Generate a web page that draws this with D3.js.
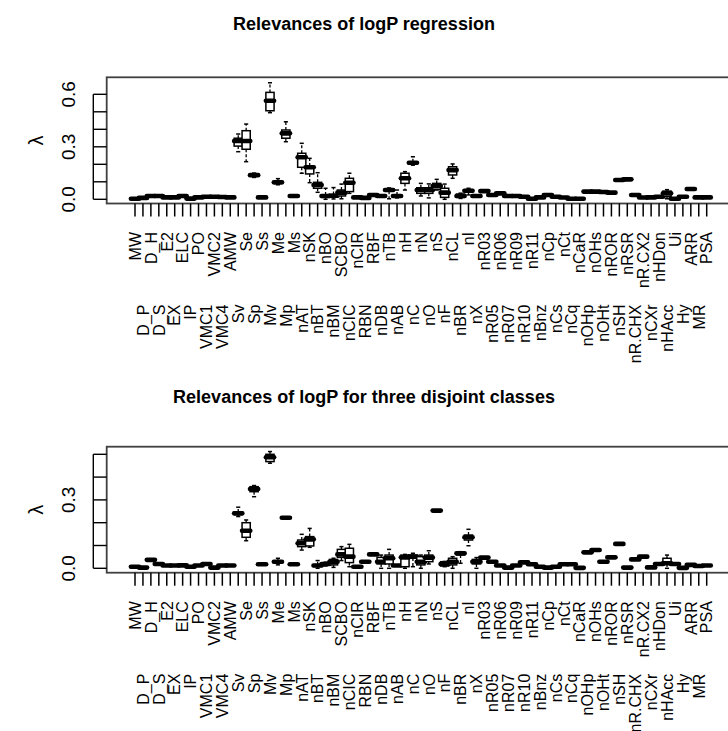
<!DOCTYPE html>
<html><head><meta charset="utf-8">
<script src="https://cdn.jsdelivr.net/npm/d3@7"></script>
<style>body{margin:0;background:#fff}svg{display:block}text{font-family:"Liberation Sans",Arial,Helvetica,sans-serif}</style>
</head><body><svg id="c" width="728" height="731"></svg>
<script>
const names=["MW","D_P","D_H","D_S","E2","EX","ELC","IP","PO","VMC1","VMC2","VMC4","AMW","Sv","Se","Sp","Ss","Mv","Me","Mp","Ms","nAT","nSK","nBT","nBO","nBM","SCBO","nCIC","nCIR","RBN","RBF","nDB","nTB","nAB","nH","nC","nN","nO","nS","nF","nCL","nBR","nI","nX","nR03","nR05","nR06","nR07","nR09","nR10","nR11","nBnz","nCp","nCs","nCt","nCq","nCaR","nOHp","nOHs","nOHt","nROR","nSH","nRSR","nR.CHX","nR.CX2","nCXr","nHDon","nHAcc","Ui","Hy","ARR","MR","PSA"];

const titles=["Relevances of logP regression","Relevances of logP for three disjoint classes"];
const topTicks=[0,0.1,0.2,0.3,0.4,0.5,0.6];
const topTickLabels=["0.0","","","0.3","","","0.6"];
const botTicks=[0,0.1,0.2,0.3,0.4,0.5];
const botTickLabels=["0.0","","","0.3","",""];

const topMed=[.003,.008,.019,.019,.011,.011,.019,.004,.011,.015,.015,.013,.011,.333,.333,.138,.011,.563,.097,.377,.019,.240,.183,.082,.019,.020,.038,.095,.011,.008,.025,.019,.053,.019,.120,.209,.053,.053,.076,.038,.167,.019,.049,.019,.047,.025,.034,.019,.019,.015,.003,.011,.025,.015,.010,.003,.003,.044,.044,.042,.038,.110,.114,.025,.010,.011,.015,.034,.003,.015,.059,.011,.011];
const topQ1=[.001,.006,.017,.017,.009,.009,.017,.002,.009,.013,.013,.011,.009,.304,.286,.133,.009,.506,.092,.349,.017,.183,.145,.063,.011,.012,.019,.044,.009,.006,.023,.017,.046,.014,.091,.203,.034,.034,.057,.011,.139,.011,.040,.017,.045,.023,.032,.017,.017,.013,.001,.009,.023,.013,.008,.001,.001,.042,.042,.040,.036,.106,.110,.023,.008,.009,.013,.015,.001,.013,.056,.009,.009];
const topQ3=[.005,.010,.021,.021,.013,.013,.021,.006,.013,.017,.017,.015,.013,.349,.392,.143,.013,.611,.102,.396,.021,.263,.190,.097,.025,.028,.053,.120,.013,.010,.027,.021,.058,.024,.149,.214,.066,.066,.091,.063,.186,.030,.055,.021,.049,.027,.036,.021,.021,.017,.005,.013,.027,.017,.012,.005,.005,.046,.046,.044,.040,.114,.118,.027,.012,.013,.017,.047,.005,.017,.062,.013,.013];
const topLo=[.000,.005,.016,.016,.008,.008,.016,.001,.008,.012,.012,.010,.008,.272,.215,.125,.008,.495,.083,.329,.016,.149,.095,.040,.000,.002,.003,.034,.008,.005,.022,.016,.003,.008,.053,.195,.019,.008,.053,.000,.120,.005,.025,.016,.044,.022,.031,.016,.016,.012,.000,.008,.022,.012,.007,.000,.000,.041,.041,.039,.035,.104,.108,.022,.007,.008,.012,.003,.000,.012,.054,.008,.008];
const topHi=[.006,.011,.022,.022,.014,.014,.022,.007,.014,.018,.018,.016,.014,.373,.430,.150,.014,.666,.118,.443,.022,.320,.234,.152,.063,.067,.087,.149,.014,.011,.028,.022,.065,.053,.158,.243,.091,.088,.114,.087,.202,.035,.063,.022,.050,.028,.037,.022,.022,.018,.006,.014,.028,.018,.013,.006,.006,.047,.047,.045,.041,.116,.120,.028,.013,.014,.018,.055,.006,.018,.064,.014,.014];

const botMed=[.007,.003,.037,.019,.012,.012,.013,.007,.012,.019,.003,.012,.012,.241,.165,.348,.018,.487,.029,.222,.018,.110,.127,.012,.019,.029,.061,.051,.007,.029,.061,.029,.044,.012,.048,.051,.029,.047,.253,.019,.029,.066,.136,.029,.047,.029,.012,.003,.012,.026,.018,.007,.003,.007,.018,.018,.002,.070,.080,.029,.048,.107,.003,.039,.051,.004,.019,.022,.019,.002,.015,.010,.012];
const botQ1=[.005,.001,.035,.017,.010,.010,.011,.005,.010,.017,.001,.010,.010,.236,.136,.336,.016,.468,.025,.220,.016,.095,.098,.008,.015,.015,.048,.025,.005,.027,.059,.019,.019,.010,.007,.045,.015,.029,.251,.010,.015,.058,.124,.019,.045,.027,.010,.001,.010,.024,.016,.005,.001,.005,.016,.016,.000,.068,.078,.027,.046,.105,.001,.037,.049,.002,.017,.019,.017,.000,.013,.008,.010];
const botQ3=[.009,.005,.039,.021,.014,.014,.015,.009,.014,.021,.005,.014,.014,.247,.200,.358,.020,.500,.033,.224,.020,.124,.139,.016,.023,.039,.083,.088,.009,.031,.063,.048,.058,.014,.058,.058,.051,.058,.255,.029,.044,.070,.146,.039,.049,.031,.014,.005,.014,.028,.020,.009,.005,.009,.020,.020,.004,.072,.082,.031,.050,.109,.005,.041,.053,.006,.021,.044,.021,.004,.017,.012,.014];
const botLo=[.004,.000,.034,.016,.009,.009,.010,.004,.009,.016,.000,.009,.009,.227,.121,.314,.015,.461,.015,.219,.015,.080,.092,.000,.010,.004,.034,.007,.004,.026,.058,.000,.000,.009,.000,.007,.000,.019,.250,.007,.000,.022,.099,.000,.044,.026,.009,.000,.009,.023,.015,.004,.000,.004,.015,.015,.000,.067,.077,.026,.045,.104,.000,.036,.048,.001,.016,.000,.016,.000,.012,.007,.009];
const botHi=[.010,.006,.040,.022,.015,.015,.016,.010,.015,.022,.006,.015,.015,.268,.212,.363,.021,.512,.044,.225,.021,.149,.175,.034,.027,.044,.095,.105,.010,.032,.064,.058,.083,.015,.061,.066,.058,.077,.256,.030,.051,.073,.171,.047,.050,.032,.015,.006,.015,.029,.021,.010,.006,.010,.021,.021,.005,.073,.083,.032,.051,.110,.006,.042,.054,.007,.022,.058,.022,.005,.018,.013,.015];

const svg=d3.select("#c");
const x=d3.scalePoint().domain(names).range([135,706.7]);
const bw=8.2;

function panel(cfg){
  const g=svg.append("g");
  const y=d3.scaleLinear().domain(cfg.domain).range(cfg.range);
  g.append("text").attr("x",364).attr("y",cfg.titleY).attr("text-anchor","middle")
   .attr("font-size",18).attr("font-weight","bold").text(cfg.title);
  g.append("rect").attr("x",cfg.left).attr("y",cfg.top).attr("width",740-cfg.left).attr("height",cfg.bottom-cfg.top)
   .attr("fill","none").attr("stroke","#404040").attr("stroke-width",1.8);
  const ax=cfg.left-13.4;
  g.append("line").attr("x1",ax).attr("x2",ax).attr("y1",y(cfg.ticks[0])).attr("y2",y(cfg.ticks[cfg.ticks.length-1]))
   .attr("stroke","#000").attr("stroke-width",1.4);
  cfg.ticks.forEach((t,i)=>{
    g.append("line").attr("x1",ax).attr("x2",cfg.left).attr("y1",y(t)).attr("y2",y(t)).attr("stroke","#000").attr("stroke-width",1.4);
    if(cfg.tickLabels[i]) g.append("text").attr("transform",`translate(68,${y(t)}) rotate(-90)`)
      .attr("text-anchor","middle").attr("dy","0.35em").attr("font-size",19).text(cfg.tickLabels[i]);
  });
  g.append("text").attr("transform",`translate(36,${(cfg.top+cfg.bottom)/2}) rotate(-90)`)
   .attr("text-anchor","middle").attr("dy","0.35em").attr("font-size",20).text("λ");
  names.forEach((n,i)=>{
    const xx=x(n);
    g.append("line").attr("x1",xx).attr("x2",xx).attr("y1",cfg.bottom).attr("y2",cfg.bottom+13)
     .attr("stroke","#000").attr("stroke-width",1.5);
    const ly=cfg.bottom+(i%2===0?28.5:101);
    g.append("text").attr("transform",`translate(${xx},${ly}) rotate(-90)`)
     .attr("text-anchor","end").attr("dy","0.36em").attr("font-size",16).text(n);
  });
  const s=cfg.stats;
  names.forEach((n,i)=>{
    const xx=x(n);
    const b=g.append("g");
    b.append("line").attr("x1",xx).attr("x2",xx).attr("y1",y(s.q3[i])).attr("y2",y(s.hi[i]))
     .attr("stroke","#000").attr("stroke-width",1.3).attr("stroke-dasharray","3,2");
    b.append("line").attr("x1",xx).attr("x2",xx).attr("y1",y(s.q1[i])).attr("y2",y(s.lo[i]))
     .attr("stroke","#000").attr("stroke-width",1.3).attr("stroke-dasharray","3,2");
    [s.hi[i],s.lo[i]].forEach(v=>b.append("line").attr("x1",xx-bw/4).attr("x2",xx+bw/4).attr("y1",y(v)).attr("y2",y(v))
     .attr("stroke","#000").attr("stroke-width",1.5));
    b.append("rect").attr("x",xx-bw/2).attr("width",bw).attr("y",y(s.q3[i])).attr("height",Math.max(0,y(s.q1[i])-y(s.q3[i])))
     .attr("fill","#fff").attr("stroke","#000").attr("stroke-width",1.5);
    b.append("line").attr("x1",xx-bw/2).attr("x2",xx+bw/2).attr("y1",y(s.med[i])).attr("y2",y(s.med[i]))
     .attr("stroke","#000").attr("stroke-width",4.6).attr("stroke-linecap","round");
  });
}

panel({title:titles[0],titleY:30,domain:[0,0.6],range:[199.3,94.3],ticks:topTicks,tickLabels:topTickLabels,
  left:106.7,top:77.3,bottom:203.5,stats:{med:topMed,q1:topQ1,q3:topQ3,lo:topLo,hi:topHi}});
panel({title:titles[1],titleY:403,domain:[0,0.5],range:[568.3,454.3],ticks:botTicks,tickLabels:botTickLabels,
  left:106.7,top:446.7,bottom:572.7,stats:{med:botMed,q1:botQ1,q3:botQ3,lo:botLo,hi:botHi}});
</script></body></html>
